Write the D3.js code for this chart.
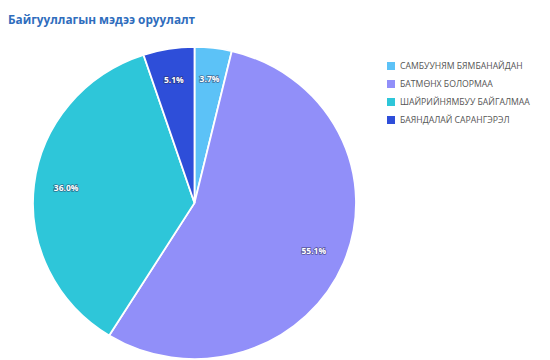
<!DOCTYPE html>
<html>
<head>
<meta charset="utf-8">
<script src="https://cdn.jsdelivr.net/npm/d3@7"></script>
<style>
  html, body { margin: 0; padding: 0; background: #fff; }
  svg { display: block; }
</style>
</head>
<body>
<svg id="chart" width="550" height="360"></svg>
<script>
// Share of entries submitted per person
const names = [
  "САМБУУНЯМ БЯМБАНАЙДАН",
  "БАТМӨНХ БОЛОРМАА",
  "ШАЙРИЙНЯМБУУ БАЙГАЛМАА",
  "БАЯНДАЛАЙ САРАНГЭРЭЛ"
];
const shares = [3.7, 55.1, 36.0, 5.1];
const colors = ["#5cc2f7", "#918ff9", "#2ec6d9", "#2e4ed9"];
const title = "Байгууллагын мэдээ оруулалт";

const svg = d3.select("#chart");

svg.append("text")
  .attr("x", 8)
  .attr("y", 24)
  .attr("font-family", "'Open Sans', 'Noto Sans', sans-serif")
  .attr("font-size", 11.8)
  .attr("font-weight", 700)
  .attr("fill", "#2f6dbd")
  .text(title);

const data = names.map((n, i) => ({ name: n, value: shares[i], color: colors[i] }));

const pie = d3.pie().sort(null).value(d => d.value);
const r = 161.5;
const arc = d3.arc().innerRadius(0).outerRadius(r);
const labelArc = d3.arc().innerRadius(r * 0.8).outerRadius(r * 0.8);

// pie is slightly squashed vertically
const g = svg.append("g").attr("transform", "translate(194.5,203) scale(1,0.966)");

const arcs = pie(data);

g.selectAll("path")
  .data(arcs)
  .join("path")
  .attr("d", arc)
  .attr("fill", d => d.data.color)
  .attr("stroke", "#fff")
  .attr("stroke-width", 1.8);

svg.append("g").attr("transform", "translate(194.5,203)")
  .selectAll("text")
  .data(arcs)
  .join("text")
  .attr("transform", d => {
    const [x, y] = labelArc.centroid(d);
    return `translate(${x},${y * 0.966})`;
  })
  .attr("text-anchor", "middle")
  .attr("dy", "0.35em")
  .attr("font-family", "'Open Sans', 'Noto Sans', sans-serif")
  .attr("font-size", 8.5)
  .attr("font-weight", 700)
  .attr("fill", "#fff")
  .style("paint-order", "stroke")
  .attr("stroke", "rgba(40,40,80,0.55)")
  .attr("stroke-width", 1.6)
  .text(d => d.data.value.toFixed(1) + "%");

const legend = svg.append("g").attr("transform", "translate(387,62)");
const rows = legend.selectAll("g")
  .data(data)
  .join("g")
  .attr("transform", (d, i) => `translate(0,${i * 18})`);

rows.append("rect")
  .attr("width", 8)
  .attr("height", 8)
  .attr("fill", d => d.color);

rows.append("text")
  .attr("x", 13)
  .attr("y", 4)
  .attr("dy", "0.35em")
  .attr("font-family", "'Open Sans', 'Noto Sans', sans-serif")
  .attr("font-size", 8.7)
  .attr("fill", "#555")
  .text(d => d.name);
</script>
</body>
</html>
